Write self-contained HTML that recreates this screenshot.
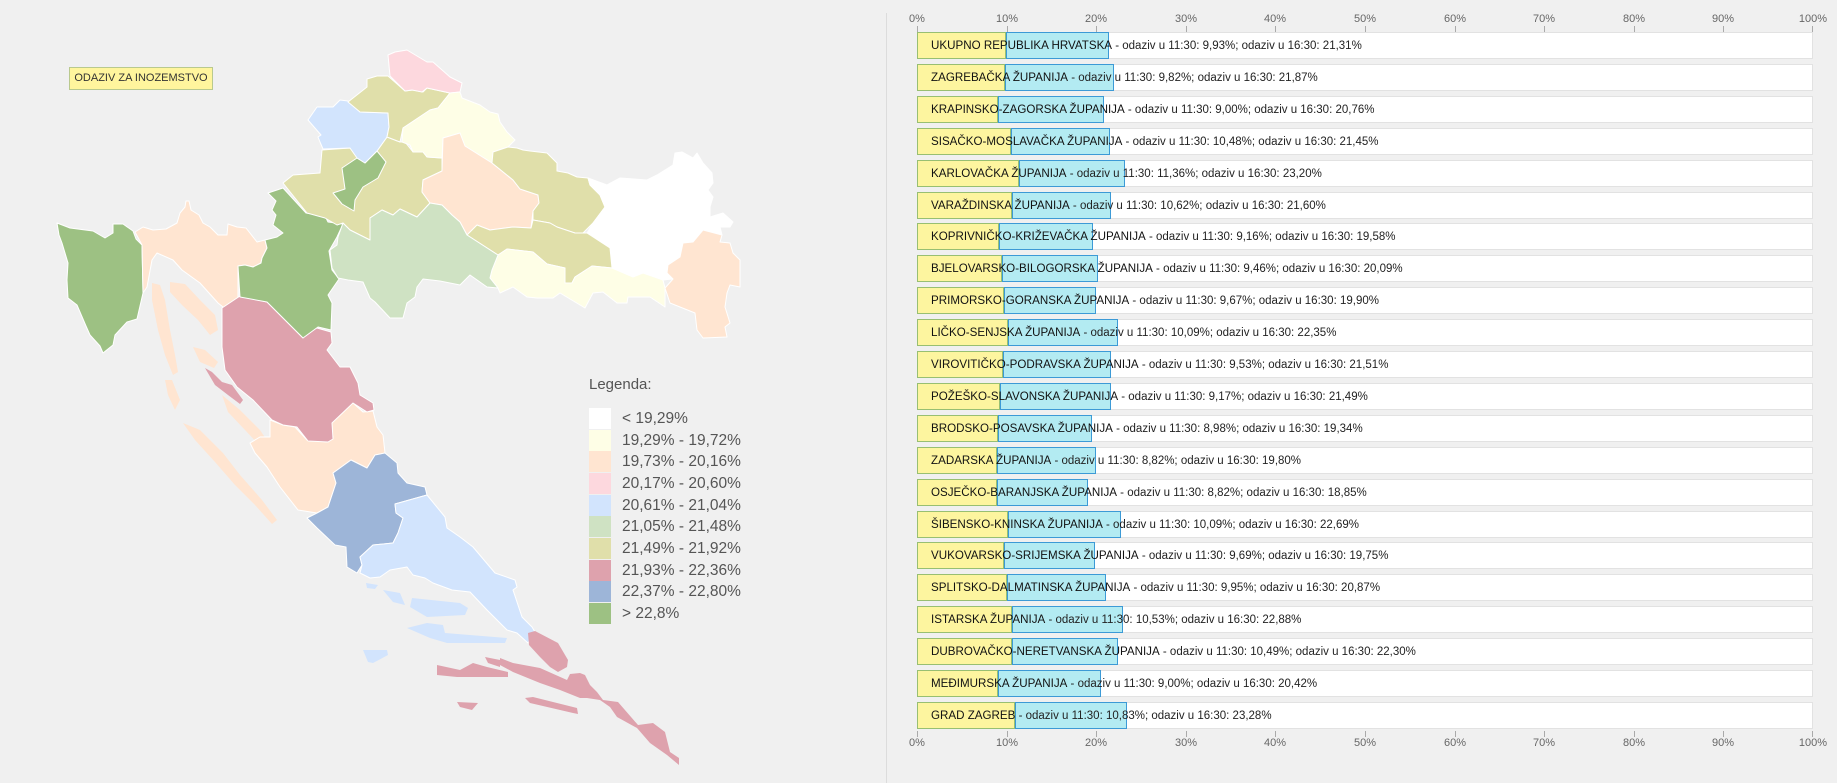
<!DOCTYPE html>
<html><head><meta charset="utf-8"><style>
body{margin:0;width:1837px;height:783px;background:#f0f0f0;font-family:"Liberation Sans",sans-serif;position:relative;overflow:hidden}
.btn{position:absolute;left:69px;top:67px;width:142px;height:21px;background:#fff59d;border:1px solid #b9c98e;font-size:11px;line-height:21px;text-align:center;color:#333}
.div{position:absolute;left:886px;top:13px;width:1px;height:770px;background:#dcdcdc}
.row{position:absolute;left:917px;width:894px;height:25px;background:#fff;border:1px solid #e2e2e2}
.y{position:absolute;left:-1px;top:-1px;height:25px;background:#fdf59f;border:1px solid #98bf72}
.b{position:absolute;top:-1px;height:25px;background:#b3ebf2;border:1px solid #3c9ad6}
.t{position:absolute;left:13px;top:0;line-height:26px;font-size:11.5px;color:#222;white-space:nowrap}
.t b{font-weight:normal;color:#111;font-size:11.6px}
.tk{position:absolute;font-size:11px;color:#666;transform:translateX(-50%)}
.tl{position:absolute;width:1px;height:6px;background:#aaa}
.leg{position:absolute;left:589px;font-size:15px;color:#555}
.sw{position:absolute;left:589px;width:22px;height:21px}
.lt{position:absolute;left:622px;font-size:15.5px;color:#555;line-height:21px}
</style></head><body>
<div class="btn">ODAZIV ZA INOZEMSTVO</div>
<div class="div"></div>

<svg width="760" height="783" style="position:absolute;left:0;top:0" stroke="#fff" stroke-width="1" stroke-linejoin="round">
<polygon fill="#9dc183" points="57,223 70,228 93,231 105,238 113,233 113,224 123,224 133,231 136,239 142,245 143,293 137,319 127,322 115,335 113,345 103,353 100,346 90,335 86,326 77,305 68,298 67,280 68,263 62,243 59,235"/>
<polygon fill="#ffe5d1" points="135,232 143,227 153,230 166,229 177,223 180,213 185,207 186,201 189,201 191,210 199,215 203,223 210,227 218,235 227,235 228,224 237,227 246,228 257,242 265,240 267,248 262,258 261,263 253,267 245,265 238,266 238,298 240,305 223,307 218,303 200,283 182,270 173,260 157,253 152,260 147,287 143,293 142,245"/>
<polygon fill="#ffe5d1" stroke="none" points="152,283 160,285 165,300 170,330 175,355 178,372 173,375 165,355 158,330 152,300"/>
<polygon fill="#ffe5d1" stroke="none" points="170,282 185,284 200,300 215,315 218,330 210,335 198,320 182,305 170,292"/>
<polygon fill="#ffe5d1" stroke="none" points="193,347 205,350 218,362 214,368 200,362"/>
<polygon fill="#ffe5d1" stroke="none" points="183,423 200,430 223,453 240,475 262,500 277,520 272,524 255,505 235,485 215,462 195,440"/>
<polygon fill="#ffe5d1" stroke="none" points="222,395 240,410 260,430 270,445 262,448 245,430 228,412"/>
<polygon fill="#ffe5d1" stroke="none" points="165,380 172,380 180,400 175,410 168,395"/>
<polygon fill="#ffe5d1" points="270,420 283,425 295,427 307,440 328,442 333,437 329,425 340,413 353,403 363,412 373,411 377,427 383,435 385,453 375,455 367,468 351,460 333,473 336,483 328,507 317,513 298,510 280,487 267,467 255,453 250,443 260,437 270,437"/>
<polygon fill="#dea2ad" points="222,308 240,296 267,302 303,338 303,332 317,328 331,332 332,343 327,350 340,367 350,367 358,383 360,395 373,403 374,410 367,412 353,403 332,423 333,439 328,442 308,441 297,427 283,425 272,420 253,400 237,387 225,370 222,347"/>
<polygon fill="#dea2ad" stroke="none" points="205,368 212,372 222,382 232,385 243,400 240,404 228,395 215,385"/>
<polygon fill="#9dc183" points="268,193 283,188 306,213 325,216 328,222 343,224 337,237 329,251 332,270 339,279 328,295 332,303 331,330 318,327 303,338 267,302 240,297 238,266 245,265 253,267 261,263 262,258 267,248 265,240 277,237 283,233 273,225 276,215 272,210 276,201"/>
<polygon fill="#e0dfaa" points="283,183 293,175 320,173 322,150 350,148 358,158 365,163 377,151 387,137 400,142 405,142 413,152 423,152 427,157 442,158 442,171 423,180 422,192 430,203 417,217 400,209 393,215 382,210 370,218 370,240 350,230 343,223 337,225 325,218 307,213"/>
<polygon fill="#9dc183" points="342,168 357,158 365,163 377,151 386,162 378,178 363,187 355,200 354,211 342,204 333,193 345,189"/>
<polygon fill="#d2e4fd" points="308,120 317,107 333,107 340,100 348,101 360,112 388,113 389,127 387,137 377,151 365,163 357,158 350,148 323,149 320,142 318,137 321,135"/>
<polygon fill="#e0dfaa" points="348,102 367,87 367,79 377,76 388,76 405,91 413,90 423,92 427,88 450,93 438,108 430,110 403,128 400,142 387,137 389,127 388,113 360,112"/>
<polygon fill="#fdd8de" points="388,55 395,52 407,50 427,62 433,62 450,77 462,83 460,92 450,93 427,88 422,92 412,90 405,91 390,76"/>
<polygon fill="#fefee6" points="403,128 430,110 438,108 450,93 460,92 462,98 480,105 490,112 498,114 500,122 507,132 515,140 508,147 493,152 492,163 463,145 460,133 443,138 442,158 427,157 423,152 413,152 410,145 402,142"/>
<polygon fill="#ffe5d1" points="443,138 460,133 465,146 492,163 513,180 520,189 538,195 539,203 533,211 531,228 513,227 490,230 477,225 467,235 460,222 452,215 442,205 430,203 422,192 423,180 442,171"/>
<polygon fill="#e0dfaa" points="493,152 508,147 517,148 523,150 530,151 547,153 557,163 557,171 568,173 577,177 588,178 590,185 600,195 605,207 593,223 583,233 575,233 557,227 550,223 533,220 533,211 539,203 538,195 520,189 513,180 492,163"/>
<polygon fill="#ffffff" points="588,178 607,185 620,178 647,180 657,175 673,165 675,153 682,152 693,158 697,153 703,163 712,173 713,183 708,190 713,197 710,207 710,217 723,213 733,222 730,227 720,227 722,235 703,230 693,242 683,243 680,257 668,265 667,273 673,279 663,280 643,273 633,277 612,268 610,248 587,233 593,223 605,207 600,195 590,185"/>
<polygon fill="#ffe5d1" points="703,230 722,235 720,242 730,243 733,253 740,260 740,287 730,285 727,293 725,307 730,323 725,327 727,337 703,338 697,330 695,313 670,303 665,288 673,279 667,273 668,265 680,257 683,243 693,242"/>
<polygon fill="#e0dfaa" points="467,235 477,225 490,230 513,227 531,228 533,220 550,223 557,227 575,233 587,233 610,248 612,268 592,266 575,277 572,283 565,283 565,268 547,264 533,252 507,249 498,255"/>
<polygon fill="#fefee6" points="498,255 507,249 533,252 547,264 565,268 565,283 572,283 575,277 592,266 612,268 633,277 643,273 663,280 665,288 665,307 650,297 628,297 627,303 617,303 603,292 593,293 585,308 560,293 553,298 545,298 537,298 527,297 513,287 500,293 498,288 490,278 492,270"/>
<polygon fill="#cfe2c3" points="343,223 350,230 370,240 370,218 382,210 393,215 400,209 417,217 430,203 442,205 452,215 460,222 467,235 498,255 492,270 490,278 498,288 487,287 470,275 460,285 440,281 423,279 417,287 415,297 407,303 403,318 390,318 375,302 370,298 363,282 348,280 338,278 332,268 330,250 337,245 338,237"/>
<polygon fill="#9db5d8" points="333,473 351,460 367,468 375,455 385,453 397,463 398,473 407,483 425,487 427,495 395,504 396,513 403,518 398,533 393,543 373,545 360,557 362,565 357,573 347,567 346,547 335,545 317,528 307,518 317,513 328,507 336,483"/>
<polygon fill="#d2e4fd" points="395,504 427,495 445,517 447,528 460,537 473,547 495,573 515,580 517,587 513,590 522,617 532,627 535,632 528,643 517,633 507,630 487,610 470,592 452,590 433,583 425,578 413,575 407,567 390,570 380,577 370,578 360,573 362,565 360,557 373,545 393,543 398,533 403,518 396,513"/>
<g fill="#d2e4fd" stroke="none">
<polygon points="412,598 460,603 468,608 465,615 427,617 410,607"/>
<polygon points="407,628 427,623 443,625 445,633 507,638 505,643 447,643 430,638"/>
<polygon points="383,590 400,593 405,605 393,602"/>
<polygon points="363,650 387,650 388,655 373,663 368,662"/>
<polygon points="366,583 378,585 375,589 367,588"/>
</g>
<g fill="#dea2ad" stroke="none">
<polygon points="528,633 535,631 558,643 568,660 567,667 558,672 550,667 540,657 529,645"/>
<polygon points="500,658 513,663 540,668 567,680 570,674 580,673 585,675 590,685 597,692 603,700 618,702 638,725 653,723 665,732 670,752 679,758 679,765 667,755 650,743 637,728 617,717 610,707 600,700 587,698 580,698 560,690 540,683 513,672 500,665"/>
<polygon points="525,698 533,697 577,708 578,714 573,713 530,703"/>
<polygon points="437,665 460,670 473,663 487,667 508,672 508,677 457,677 437,675"/>
<polygon points="457,702 478,703 472,710 460,707"/>
<polygon points="485,657 500,660 500,667 488,663"/>
</g>
</svg>

<div class="leg" style="top:376px">Legenda:</div>
<div class="sw" style="top:408px;background:#ffffff"></div><div class="lt" style="top:408px">&lt; 19,29%</div>
<div class="sw" style="top:430px;background:#fefee6"></div><div class="lt" style="top:430px">19,29% - 19,72%</div>
<div class="sw" style="top:451px;background:#ffe5d1"></div><div class="lt" style="top:451px">19,73% - 20,16%</div>
<div class="sw" style="top:473px;background:#fdd8de"></div><div class="lt" style="top:473px">20,17% - 20,60%</div>
<div class="sw" style="top:495px;background:#d2e4fd"></div><div class="lt" style="top:495px">20,61% - 21,04%</div>
<div class="sw" style="top:516px;background:#cfe2c3"></div><div class="lt" style="top:516px">21,05% - 21,48%</div>
<div class="sw" style="top:538px;background:#e0dfaa"></div><div class="lt" style="top:538px">21,49% - 21,92%</div>
<div class="sw" style="top:560px;background:#dea2ad"></div><div class="lt" style="top:560px">21,93% - 22,36%</div>
<div class="sw" style="top:581px;background:#9db5d8"></div><div class="lt" style="top:581px">22,37% - 22,80%</div>
<div class="sw" style="top:603px;background:#9dc183"></div><div class="lt" style="top:603px">&gt; 22,8%</div>

<div class="tk" style="left:917px;top:13px">0%</div><div class="tk" style="left:1007px;top:13px">10%</div><div class="tk" style="left:1096px;top:13px">20%</div><div class="tk" style="left:1186px;top:13px">30%</div><div class="tk" style="left:1275px;top:13px">40%</div><div class="tk" style="left:1365px;top:13px">50%</div><div class="tk" style="left:1455px;top:13px">60%</div><div class="tk" style="left:1544px;top:13px">70%</div><div class="tk" style="left:1634px;top:13px">80%</div><div class="tk" style="left:1723px;top:13px">90%</div><div class="tk" style="left:1813px;top:13px">100%</div>
<div class="tl" style="left:917px;top:26px"></div><div class="tl" style="left:1007px;top:26px"></div><div class="tl" style="left:1096px;top:26px"></div><div class="tl" style="left:1186px;top:26px"></div><div class="tl" style="left:1275px;top:26px"></div><div class="tl" style="left:1365px;top:26px"></div><div class="tl" style="left:1455px;top:26px"></div><div class="tl" style="left:1544px;top:26px"></div><div class="tl" style="left:1634px;top:26px"></div><div class="tl" style="left:1723px;top:26px"></div><div class="tl" style="left:1812px;top:26px"></div>
<div class="tl" style="left:917px;top:731px"></div><div class="tl" style="left:1007px;top:731px"></div><div class="tl" style="left:1096px;top:731px"></div><div class="tl" style="left:1186px;top:731px"></div><div class="tl" style="left:1275px;top:731px"></div><div class="tl" style="left:1365px;top:731px"></div><div class="tl" style="left:1455px;top:731px"></div><div class="tl" style="left:1544px;top:731px"></div><div class="tl" style="left:1634px;top:731px"></div><div class="tl" style="left:1723px;top:731px"></div><div class="tl" style="left:1812px;top:731px"></div>
<div class="tk" style="left:917px;top:737px">0%</div><div class="tk" style="left:1007px;top:737px">10%</div><div class="tk" style="left:1096px;top:737px">20%</div><div class="tk" style="left:1186px;top:737px">30%</div><div class="tk" style="left:1275px;top:737px">40%</div><div class="tk" style="left:1365px;top:737px">50%</div><div class="tk" style="left:1455px;top:737px">60%</div><div class="tk" style="left:1544px;top:737px">70%</div><div class="tk" style="left:1634px;top:737px">80%</div><div class="tk" style="left:1723px;top:737px">90%</div><div class="tk" style="left:1813px;top:737px">100%</div>

<div class="row" style="top:32px"><div class="y" style="width:87px"></div><div class="b" style="left:88px;width:101px"></div><div class="t"><b>UKUPNO REPUBLIKA HRVATSKA</b> - odaziv u 11:30: 9,93%; odaziv u 16:30: 21,31%</div></div>
<div class="row" style="top:64px"><div class="y" style="width:86px"></div><div class="b" style="left:87px;width:107px"></div><div class="t"><b>ZAGREBAČKA ŽUPANIJA</b> - odaziv u 11:30: 9,82%; odaziv u 16:30: 21,87%</div></div>
<div class="row" style="top:96px"><div class="y" style="width:79px"></div><div class="b" style="left:80px;width:104px"></div><div class="t"><b>KRAPINSKO-ZAGORSKA ŽUPANIJA</b> - odaziv u 11:30: 9,00%; odaziv u 16:30: 20,76%</div></div>
<div class="row" style="top:128px"><div class="y" style="width:92px"></div><div class="b" style="left:93px;width:97px"></div><div class="t"><b>SISAČKO-MOSLAVAČKA ŽUPANIJA</b> - odaziv u 11:30: 10,48%; odaziv u 16:30: 21,45%</div></div>
<div class="row" style="top:160px"><div class="y" style="width:100px"></div><div class="b" style="left:101px;width:104px"></div><div class="t"><b>KARLOVAČKA ŽUPANIJA</b> - odaziv u 11:30: 11,36%; odaziv u 16:30: 23,20%</div></div>
<div class="row" style="top:192px"><div class="y" style="width:93px"></div><div class="b" style="left:94px;width:97px"></div><div class="t"><b>VARAŽDINSKA ŽUPANIJA</b> - odaziv u 11:30: 10,62%; odaziv u 16:30: 21,60%</div></div>
<div class="row" style="top:223px"><div class="y" style="width:80px"></div><div class="b" style="left:81px;width:92px"></div><div class="t"><b>KOPRIVNIČKO-KRIŽEVAČKA ŽUPANIJA</b> - odaziv u 11:30: 9,16%; odaziv u 16:30: 19,58%</div></div>
<div class="row" style="top:255px"><div class="y" style="width:83px"></div><div class="b" style="left:84px;width:94px"></div><div class="t"><b>BJELOVARSKO-BILOGORSKA ŽUPANIJA</b> - odaziv u 11:30: 9,46%; odaziv u 16:30: 20,09%</div></div>
<div class="row" style="top:287px"><div class="y" style="width:85px"></div><div class="b" style="left:86px;width:90px"></div><div class="t"><b>PRIMORSKO-GORANSKA ŽUPANIJA</b> - odaziv u 11:30: 9,67%; odaziv u 16:30: 19,90%</div></div>
<div class="row" style="top:319px"><div class="y" style="width:89px"></div><div class="b" style="left:90px;width:108px"></div><div class="t"><b>LIČKO-SENJSKA ŽUPANIJA</b> - odaziv u 11:30: 10,09%; odaziv u 16:30: 22,35%</div></div>
<div class="row" style="top:351px"><div class="y" style="width:84px"></div><div class="b" style="left:85px;width:106px"></div><div class="t"><b>VIROVITIČKO-PODRAVSKA ŽUPANIJA</b> - odaziv u 11:30: 9,53%; odaziv u 16:30: 21,51%</div></div>
<div class="row" style="top:383px"><div class="y" style="width:81px"></div><div class="b" style="left:82px;width:109px"></div><div class="t"><b>POŽEŠKO-SLAVONSKA ŽUPANIJA</b> - odaziv u 11:30: 9,17%; odaziv u 16:30: 21,49%</div></div>
<div class="row" style="top:415px"><div class="y" style="width:79px"></div><div class="b" style="left:80px;width:92px"></div><div class="t"><b>BRODSKO-POSAVSKA ŽUPANIJA</b> - odaziv u 11:30: 8,98%; odaziv u 16:30: 19,34%</div></div>
<div class="row" style="top:447px"><div class="y" style="width:78px"></div><div class="b" style="left:79px;width:97px"></div><div class="t"><b>ZADARSKA ŽUPANIJA</b> - odaziv u 11:30: 8,82%; odaziv u 16:30: 19,80%</div></div>
<div class="row" style="top:479px"><div class="y" style="width:78px"></div><div class="b" style="left:79px;width:89px"></div><div class="t"><b>OSJEČKO-BARANJSKA ŽUPANIJA</b> - odaziv u 11:30: 8,82%; odaziv u 16:30: 18,85%</div></div>
<div class="row" style="top:511px"><div class="y" style="width:89px"></div><div class="b" style="left:90px;width:111px"></div><div class="t"><b>ŠIBENSKO-KNINSKA ŽUPANIJA</b> - odaziv u 11:30: 10,09%; odaziv u 16:30: 22,69%</div></div>
<div class="row" style="top:542px"><div class="y" style="width:85px"></div><div class="b" style="left:86px;width:89px"></div><div class="t"><b>VUKOVARSKO-SRIJEMSKA ŽUPANIJA</b> - odaziv u 11:30: 9,69%; odaziv u 16:30: 19,75%</div></div>
<div class="row" style="top:574px"><div class="y" style="width:88px"></div><div class="b" style="left:89px;width:97px"></div><div class="t"><b>SPLITSKO-DALMATINSKA ŽUPANIJA</b> - odaziv u 11:30: 9,95%; odaziv u 16:30: 20,87%</div></div>
<div class="row" style="top:606px"><div class="y" style="width:93px"></div><div class="b" style="left:94px;width:109px"></div><div class="t"><b>ISTARSKA ŽUPANIJA</b> - odaziv u 11:30: 10,53%; odaziv u 16:30: 22,88%</div></div>
<div class="row" style="top:638px"><div class="y" style="width:93px"></div><div class="b" style="left:94px;width:104px"></div><div class="t"><b>DUBROVAČKO-NERETVANSKA ŽUPANIJA</b> - odaziv u 11:30: 10,49%; odaziv u 16:30: 22,30%</div></div>
<div class="row" style="top:670px"><div class="y" style="width:79px"></div><div class="b" style="left:80px;width:101px"></div><div class="t"><b>MEĐIMURSKA ŽUPANIJA</b> - odaziv u 11:30: 9,00%; odaziv u 16:30: 20,42%</div></div>
<div class="row" style="top:702px"><div class="y" style="width:96px"></div><div class="b" style="left:97px;width:110px"></div><div class="t"><b>GRAD ZAGREB</b> - odaziv u 11:30: 10,83%; odaziv u 16:30: 23,28%</div></div>
</body></html>
